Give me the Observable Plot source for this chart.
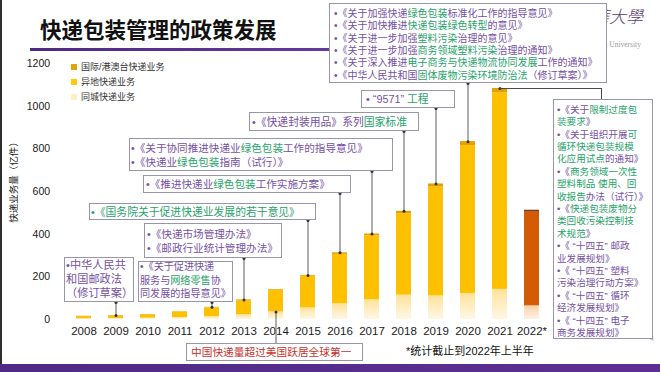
<!DOCTYPE html>
<html><head><meta charset="utf-8">
<script src="https://cdn.jsdelivr.net/npm/d3@7"></script>
<script src="https://cdn.jsdelivr.net/npm/@observablehq/plot@0.6"></script>
<style>
html,body{margin:0;padding:0;background:#fff;}
#slide{position:relative;width:660px;height:372px;overflow:hidden;background:#fff;font-family:"Liberation Sans","Noto Sans CJK SC",sans-serif;}
#slide svg{position:absolute;left:0;top:0;}
.box{position:absolute;background:#fff;border:1px solid #9896a8;box-sizing:border-box;white-space:nowrap;color:#7550a5;}
.box .ln{position:absolute;left:0;white-space:nowrap;}
.g{color:#1fa36a;}
.abs{position:absolute;white-space:nowrap;}
</style></head><body><div id="slide"></div>
<script>
// ---- data (亿件) ----
const years = ["2008","2009","2010","2011","2012","2013","2014","2015","2016","2017","2018","2019","2020","2021","2022*"];
const intraCity     = [3.8, 4.9, 6.5, 9.5, 13.6, 23.0, 35.5, 54.7, 74.1, 92.7, 114.1, 110.4, 121.7, 141.1, 63.9];
const interCity     = [10.0, 12.3, 15.8, 25.7, 41.1, 65.2, 100.7, 148.5, 231.2, 299.6, 381.9, 510.5, 693.6, 921.2, 438.9];
const international = [1.3, 1.4, 1.1, 1.5, 2.2, 3.7, 3.4, 3.5, 7.5, 8.3, 11.1, 14.4, 18.4, 20.6, 9.4];
const yTicks = [0, 200, 400, 600, 800, 1000, 1200];
const seriesNames = ["国际/港澳台快递业务", "异地快递业务", "同城快递业务"];
const highlightYear = "2022*";

const rows = years.map((year, i) => ({
  year, intra: intraCity[i], inter: interCity[i], intl: international[i],
  total: intraCity[i] + interCity[i] + international[i]
}));
const byYear = Object.fromEntries(rows.map(d => [d.year, d]));
const normal = rows.filter(d => d.year !== highlightYear);
const hi = rows.filter(d => d.year === highlightYear);

// ---- annotation boxes (layout) ----
const notes = [
  {link:"2020", l:329, t:3, w:278, h:80, fs:10, off:11, lh:12.4, pl:5, lines:[
    "•《关于加强快递{绿色包装}标准化工作的指导意见》",
    "•《关于加快推进{快递包装绿色转型}的意见》",
    "•《关于进一步加强{塑料污染}治理的意见》",
    "•《关于进一步加强{商务领域塑料污染}治理的通知》",
    "•《关于深入推进{电子商务与快递物流协同发展}工作的通知》",
    "•《中华人民共和国{固体废物污染环境防治法}（修订草案）》"]},
  {link:"2019", l:361, t:90, w:94, h:18, fs:10.8, off:8.5, lh:14, pl:5, lines:["• “9571” {工程}"]},
  {link:"2018", l:249, t:112, w:170, h:19, fs:10.8, off:9.5, lh:14, pl:3, lines:["•《快递封装用品》系列{国家标准}"]},
  {link:"2017", l:129, t:138, w:264, h:33, fs:10.6, off:10, lh:14, pl:2, lines:[
    "•《关于协同推进快递业{绿色包装}工作的指导意见》",
    "•《快递业{绿色包装}指南（试行）》"]},
  {link:"2016", l:143, t:175, w:208, h:18, fs:10.6, off:9, lh:14, pl:3, lines:["•《推进快递业{绿色包装}工作实施方案》"]},
  {link:"2015", l:89, t:203, w:227, h:17, fs:10.8, off:8.5, lh:14, pl:2, lines:["{•《国务院关于促进快递业发展的若干意见》}"]},
  {link:"2013", l:144, t:223, w:138, h:35, fs:10.6, off:11, lh:14, pl:3, lines:[
    "•《快递市场管理办法》", "•《邮政行业统计管理办法》"]},
  {link:"2009", l:64, t:257, w:70, h:45, fs:11.2, off:8, lh:14, pl:2, lines:[
    "•中华人民共", "和国邮政法", "（修订草案）"]},
  {link:"2012", l:138, t:261, w:95, h:41, fs:10.1, off:6, lh:13.6, pl:2, lines:[
    "•《关于促进快递", "服务与{网络零售}协", "同发展的指导意见》"]},
  {l:553, t:99, w:100, h:240, fs:9.6, off:11, lh:12.4, pl:4, lines:[
    "•《关于{限制过度包}", "{装要求}》", "•《关于组织开展{可}", "{循环快递包装规模}", "{化应用试点}的通知》",
    "•《{商务领域一次性}", "{塑料制品 使用、回}", "{收报告}办法（试行）》",
    "•《{快递包装废物分}", "{类回收污染控制技}", "{术规范}》",
    "•《 “十四五” 邮政", "业发展规划》", "•《 “十四五” 塑料", "污染治理行动方案》",
    "•《 “十四五” 循环", "经济发展规划》", "•《 “十四五” 电子", "商务发展规划》"]},
];
const redNote = {link:"2014", l:186, t:343, w:177, h:18, fs:10.7, off:9, lh:14, pl:5, lines:["中国快递量超过美国跃居全球第一"]};

// ---- layout ----
const W = 660, H = 372, mL = 60.6, mR = 106.5, mT = 63, mB = 53;
const yPix = d3.scaleLinear([0, 1200], [H - mB, mT]);

const conns = [], dots = [];
for (const n of notes) {
  if (!n.link) continue;
  const d = byYear[n.link];
  conns.push({year: n.link, from: d.total, to: yPix.invert(n.t + n.h)});
  dots.push({year: n.link, v: d.total}, {year: n.link, v: yPix.invert(n.t + n.h)});
}
{ const d = byYear[redNote.link];
  conns.push({year: redNote.link, from: d.intra, to: yPix.invert(redNote.t)});
  dots.push({year: redNote.link, v: d.intra}); }
dots.push({year: "2021", v: byYear["2021"].total});

const barMarks = (data, cIntra, cInter, cIntl) => [
  Plot.barY(data, {x: "year", y1: 0, y2: "intra", fill: cIntra}),
  Plot.barY(data, {x: "year", y1: "intra", y2: d => d.intra + d.inter, fill: cInter}),
  Plot.barY(data, {x: "year", y1: d => d.intra + d.inter, y2: "total", fill: cIntl})
];

const plot = Plot.plot({
  width: W, height: H,
  marginLeft: mL, marginRight: mR, marginTop: mT, marginBottom: mB,
  x: {domain: years, paddingInner: 0.54, paddingOuter: 0.27, tickSize: 0, tickPadding: 7, label: null},
  y: {domain: [0, 1200], ticks: yTicks, tickFormat: d => String(d), tickSize: 0, tickPadding: 11, label: null},
  style: {fontFamily: "'Liberation Sans', Arial, sans-serif", fontSize: "11.5px", color: "#1a1a1a", background: "transparent", overflow: "visible"},
  marks: [
    ...barMarks(normal, "url(#gIntra)", "#FFC000", "#E3A000"),
    ...barMarks(hi, "url(#gIntra22)", "#D45B06", "#8A3A08"),
    Plot.ruleX(conns, {x: "year", y1: "from", y2: "to", stroke: "#4a4a4a", strokeWidth: 0.9}),
    Plot.dot(dots, {x: "year", y: "v", r: 1.5, fill: "#333", stroke: "none"})
  ]
});

// gradients for the fading same-city segment
const ns = "http://www.w3.org/2000/svg";
const defs = document.createElementNS(ns, "defs");
defs.innerHTML = `
<linearGradient id="gIntra" x1="0" y1="0" x2="0" y2="1"><stop offset="0" stop-color="#FFE29A"/><stop offset="1" stop-color="#FFF8E6"/></linearGradient>
<linearGradient id="gIntra22" x1="0" y1="0" x2="0" y2="1"><stop offset="0" stop-color="#FAD1A6"/><stop offset="1" stop-color="#FFF2E4"/></linearGradient>`;
plot.insertBefore(defs, plot.firstChild);
d3.select(plot).selectAll('g[aria-label^="y-axis"] text').attr("font-size", "10.5px");

const slide = document.getElementById("slide");
slide.appendChild(plot);

const add = (html, css) => { const e = document.createElement("div"); e.className = "abs"; e.innerHTML = html; Object.assign(e.style, css); slide.appendChild(e); return e; };
const rich = s => s.replace(/\{([^}]*)\}/g, '<span class="g">$1</span>');

// decorations
add("", {left: "0px", top: "0px", width: "2px", height: H + "px", background: "#2e2e2e"});
add("", {left: "0px", top: "364px", width: W + "px", height: "8px", background: "linear-gradient(to right,#4f2a86,#5d2f92)"});
add("快递包装管理的政策发展", {left: "40px", top: "18px", fontSize: "21.5px", lineHeight: "22px", fontWeight: "700", color: "#111", fontFamily: "'Noto Sans CJK SC'"});
add("", {left: "30px", top: "48px", width: "380px", height: "3px", background: "linear-gradient(to right,#4b2a82,#6a3ea2)"});
add("清華大學", {left: "575px", top: "6px", fontSize: "17px", lineHeight: "20px", color: "#5b3d70", fontFamily: "'Noto Sans CJK TC'", fontWeight: "300", fontStyle: "italic"});
add("Tsinghua University", {left: "580px", top: "40px", fontSize: "7.5px", color: "#9a9a9a", fontFamily: "'Liberation Serif', serif"});
add("4", {left: "650px", top: "335px", fontSize: "7px", color: "#aaa"});

// y-axis title
add("快递业务量（亿件）", {left: "14px", top: "180px", fontSize: "9.5px", color: "#222", transform: "translate(-50%,-50%) rotate(-90deg)", transformOrigin: "center", lineHeight: "10px"});

// legend
const legendColors = ["#DFA40C", "#FFC90E", "#FFEFC6"];
seriesNames.forEach((name, i) => {
  add("", {left: "71px", top: (64 + i * 15) + "px", width: "6px", height: "6px", background: legendColors[i]});
  add(name, {left: "81px", top: (61 + i * 15) + "px", fontSize: "9px", lineHeight: "12px", color: "#333"});
});

// footnote
add("*统计截止到2022年上半年", {left: "406px", top: "344px", fontSize: "11px", lineHeight: "15px", color: "#111"});

// boxes
function drawBox(n, color) {
  const b = document.createElement("div");
  b.className = "box";
  Object.assign(b.style, {left: n.l + "px", top: n.t + "px", width: n.w + "px", height: n.h + "px", fontSize: n.fs + "px"});
  if (color) b.style.color = color;
  n.lines.forEach((s, i) => {
    const ln = document.createElement("div");
    ln.className = "ln";
    ln.innerHTML = rich(s);
    Object.assign(ln.style, {left: (n.pl - 1) + "px", top: (n.off - 1 + i * n.lh - n.lh / 2) + "px", lineHeight: n.lh + "px"});
    b.appendChild(ln);
  });
  slide.appendChild(b);
}
notes.forEach(n => drawBox(n));
drawBox(redNote, "#c8322a");

// elbow leader from the 2021 bar top to the right-hand box
const xs = plot.scale("x"), ys = plot.scale("y");
const x21 = xs.apply("2021") + xs.bandwidth / 2, y21 = ys.apply(byYear["2021"].total);
const rb = notes[notes.length - 1];
add("", {left: x21 + "px", top: y21 + "px", width: (602 - x21) + "px", height: (rb.t - y21) + "px", borderTop: "1px solid #4a4a4a", borderRight: "1px solid #4a4a4a", boxSizing: "border-box"});
</script></body></html>
